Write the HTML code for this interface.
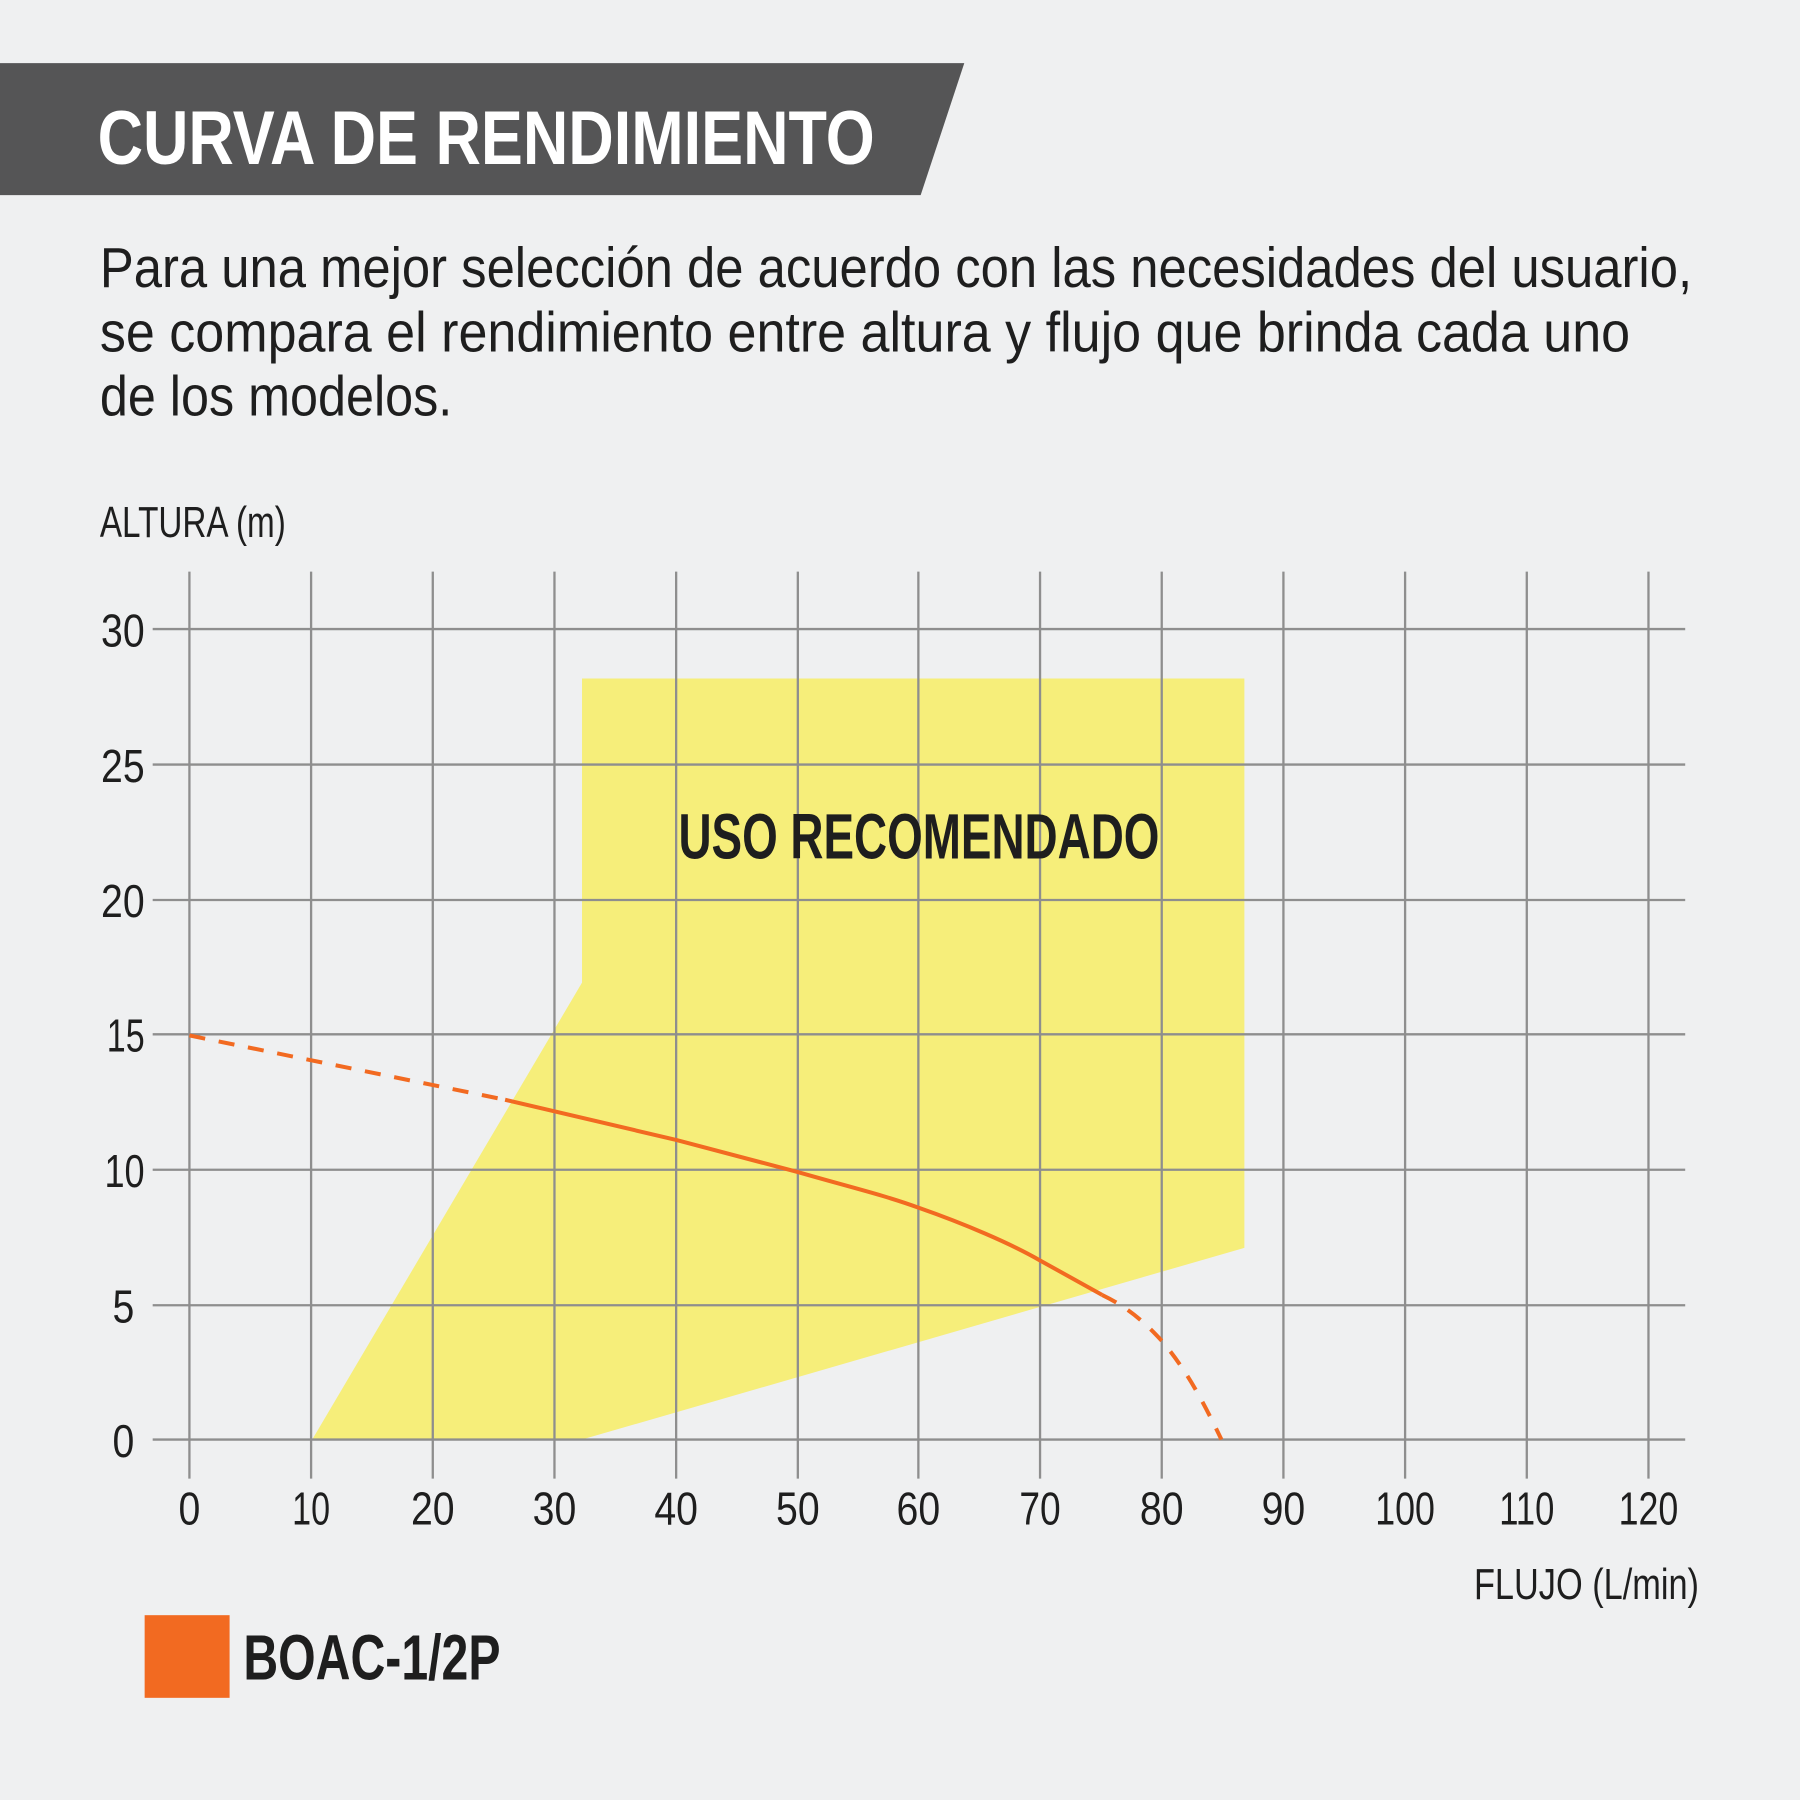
<!DOCTYPE html>
<html><head><meta charset="utf-8"><style>
html,body{margin:0;padding:0;background:#eff0f1;}
svg{display:block;}
text{font-family:"Liberation Sans",sans-serif;}
</style></head><body>
<svg width="1800" height="1800" viewBox="0 0 1568 1568" xmlns="http://www.w3.org/2000/svg">
<rect width="1568" height="1568" fill="#eff0f1"/>
<polygon points="0,55 840,55 802,170 0,170" fill="#555556"/>
<text x="85" y="143" fill="#fff" font-size="66" font-weight="bold" textLength="677" lengthAdjust="spacingAndGlyphs">CURVA DE RENDIMIENTO</text>
<g fill="#1e1e1e" font-size="49">
<text x="87" y="250" textLength="1387" lengthAdjust="spacingAndGlyphs">Para una mejor selección de acuerdo con las necesidades del usuario,</text>
<text x="87" y="306" textLength="1333" lengthAdjust="spacingAndGlyphs">se compara el rendimiento entre altura y flujo que brinda cada uno</text>
<text x="87" y="362" textLength="307" lengthAdjust="spacingAndGlyphs">de los modelos.</text>
</g>
<text x="87" y="468" font-size="38" fill="#1e1e1e" textLength="162" lengthAdjust="spacingAndGlyphs">ALTURA (m)</text>
<polygon points="272,1254 507,856 507,591 1084,591 1084,1087 507,1254" fill="#f6ee7a"/>
<g stroke="#8e8e8e" stroke-width="2">
<line x1="133" y1="548" x2="1468" y2="548"/>
<line x1="133" y1="666" x2="1468" y2="666"/>
<line x1="133" y1="784" x2="1468" y2="784"/>
<line x1="133" y1="901" x2="1468" y2="901"/>
<line x1="133" y1="1019" x2="1468" y2="1019"/>
<line x1="133" y1="1137" x2="1468" y2="1137"/>
<line x1="133" y1="1254" x2="1468" y2="1254"/>
<line x1="165" y1="498" x2="165" y2="1288"/>
<line x1="271" y1="498" x2="271" y2="1288"/>
<line x1="377" y1="498" x2="377" y2="1288"/>
<line x1="483" y1="498" x2="483" y2="1288"/>
<line x1="589" y1="498" x2="589" y2="1288"/>
<line x1="695" y1="498" x2="695" y2="1288"/>
<line x1="800" y1="498" x2="800" y2="1288"/>
<line x1="906" y1="498" x2="906" y2="1288"/>
<line x1="1012" y1="498" x2="1012" y2="1288"/>
<line x1="1118" y1="498" x2="1118" y2="1288"/>
<line x1="1224" y1="498" x2="1224" y2="1288"/>
<line x1="1330" y1="498" x2="1330" y2="1288"/>
<line x1="1436" y1="498" x2="1436" y2="1288"/>
</g>
<g font-size="40" fill="#1e1e1e" text-anchor="end">
<text x="126" y="563" textLength="38" lengthAdjust="spacingAndGlyphs">30</text>
<text x="126" y="681" textLength="38" lengthAdjust="spacingAndGlyphs">25</text>
<text x="126" y="799" textLength="38" lengthAdjust="spacingAndGlyphs">20</text>
<text x="126" y="916" textLength="33" lengthAdjust="spacingAndGlyphs">15</text>
<text x="126" y="1034" textLength="35" lengthAdjust="spacingAndGlyphs">10</text>
<text x="117" y="1152" textLength="19" lengthAdjust="spacingAndGlyphs">5</text>
<text x="117" y="1269" textLength="19" lengthAdjust="spacingAndGlyphs">0</text>
</g>
<g font-size="40" fill="#1e1e1e" text-anchor="middle">
<text x="165" y="1328" textLength="19" lengthAdjust="spacingAndGlyphs">0</text>
<text x="271" y="1328" textLength="33" lengthAdjust="spacingAndGlyphs">10</text>
<text x="377" y="1328" textLength="38" lengthAdjust="spacingAndGlyphs">20</text>
<text x="483" y="1328" textLength="38" lengthAdjust="spacingAndGlyphs">30</text>
<text x="589" y="1328" textLength="38" lengthAdjust="spacingAndGlyphs">40</text>
<text x="695" y="1328" textLength="38" lengthAdjust="spacingAndGlyphs">50</text>
<text x="800" y="1328" textLength="38" lengthAdjust="spacingAndGlyphs">60</text>
<text x="906" y="1328" textLength="36" lengthAdjust="spacingAndGlyphs">70</text>
<text x="1012" y="1328" textLength="38" lengthAdjust="spacingAndGlyphs">80</text>
<text x="1118" y="1328" textLength="38" lengthAdjust="spacingAndGlyphs">90</text>
<text x="1224" y="1328" textLength="52" lengthAdjust="spacingAndGlyphs">100</text>
<text x="1330" y="1328" textLength="48" lengthAdjust="spacingAndGlyphs">110</text>
<text x="1436" y="1328" textLength="52" lengthAdjust="spacingAndGlyphs">120</text>
</g>
<text x="1480" y="1393" font-size="38" fill="#1e1e1e" text-anchor="end" textLength="196" lengthAdjust="spacingAndGlyphs">FLUJO (L/min)</text>
<text x="591" y="748" font-size="56" font-weight="bold" fill="#1e1e1e" textLength="419" lengthAdjust="spacingAndGlyphs">USO RECOMENDADO</text>
<g fill="none" stroke="#f26a21" stroke-width="3.5">
<path d="M165,902 L440,958" stroke-dasharray="14,12"/>
<path d="M440,958 L589,993 L695,1021 C740,1034 770,1041 800,1052 C840,1066 880,1083 906,1098 L960,1128"/>
<path d="M960,1128 C985,1140 1000,1155 1012,1168 C1035,1195 1050,1225 1064,1254" stroke-dasharray="14,12"/>
</g>
<rect x="126" y="1407" width="74" height="72" fill="#f26a21"/>
<text x="212" y="1463" font-size="56" font-weight="bold" fill="#1e1e1e" textLength="224" lengthAdjust="spacingAndGlyphs">BOAC-1/2P</text>
</svg>
</body></html>
